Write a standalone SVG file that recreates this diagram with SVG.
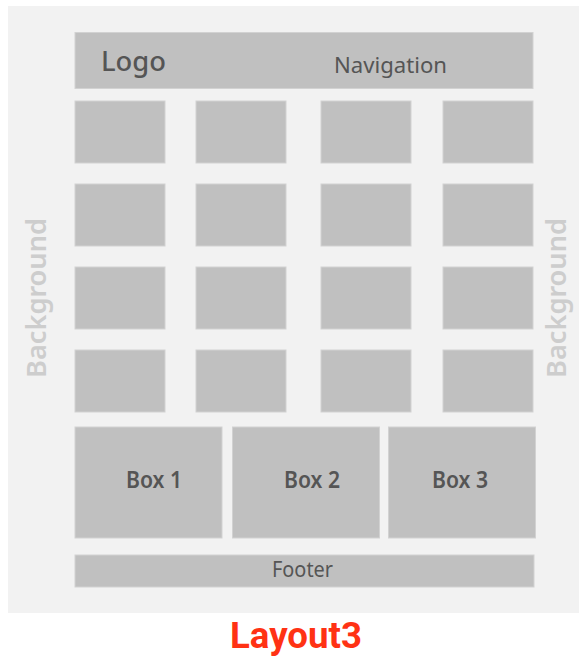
<svg xmlns="http://www.w3.org/2000/svg" width="579" height="665" viewBox="0 0 579 665">
<style>
.blk{fill:#c0c0c0;stroke:#d2d2d2;stroke-width:1}
.lbl{font-family:"Noto Sans","Open Sans",sans-serif;fill:#555555;font-weight:600}
.reg{font-weight:400}
.med{font-weight:500}
.bg{font-family:"Noto Sans","Open Sans",sans-serif;fill:#cdcdcd;font-weight:600;font-size:27px}
</style>
<rect x="0" y="0" width="579" height="665" fill="#ffffff"/>
<g id="background">
<rect x="8" y="6" width="571" height="607" fill="#f2f2f2"/>
<text class="bg" transform="translate(46,298) rotate(-90)" text-anchor="middle" textLength="160" lengthAdjust="spacingAndGlyphs">Background</text>
<text class="bg" transform="translate(566,298) rotate(-90)" text-anchor="middle" textLength="160" lengthAdjust="spacingAndGlyphs">Background</text>
</g>
<g id="header">
<rect class="blk" x="75" y="32.5" width="458" height="56"/>
<text class="lbl med" x="101" y="71" font-size="27" textLength="65" lengthAdjust="spacingAndGlyphs">Logo</text>
<text class="lbl reg" x="334" y="73" font-size="21" textLength="113" lengthAdjust="spacingAndGlyphs">Navigation</text>
</g>
<g id="grid">
<rect class="blk" x="75" y="101" width="90" height="62"/>
<rect class="blk" x="196" y="101" width="90" height="62"/>
<rect class="blk" x="321" y="101" width="90" height="62"/>
<rect class="blk" x="443" y="101" width="90" height="62"/>
<rect class="blk" x="75" y="184" width="90" height="62"/>
<rect class="blk" x="196" y="184" width="90" height="62"/>
<rect class="blk" x="321" y="184" width="90" height="62"/>
<rect class="blk" x="443" y="184" width="90" height="62"/>
<rect class="blk" x="75" y="267" width="90" height="62"/>
<rect class="blk" x="196" y="267" width="90" height="62"/>
<rect class="blk" x="321" y="267" width="90" height="62"/>
<rect class="blk" x="443" y="267" width="90" height="62"/>
<rect class="blk" x="75" y="350" width="90" height="62"/>
<rect class="blk" x="196" y="350" width="90" height="62"/>
<rect class="blk" x="321" y="350" width="90" height="62"/>
<rect class="blk" x="443" y="350" width="90" height="62"/>
</g>
<g id="box1">
<rect class="blk" x="75" y="427" width="147" height="111"/>
<text class="lbl" x="126" y="488" font-size="23" textLength="56" lengthAdjust="spacingAndGlyphs">Box 1</text>
</g>
<g id="box2">
<rect class="blk" x="232.5" y="427" width="147" height="111"/>
<text class="lbl" x="284" y="488" font-size="23" textLength="56" lengthAdjust="spacingAndGlyphs">Box 2</text>
</g>
<g id="box3">
<rect class="blk" x="388.5" y="427" width="147" height="111"/>
<text class="lbl" x="432" y="488" font-size="23" textLength="56" lengthAdjust="spacingAndGlyphs">Box 3</text>
</g>
<g id="footer">
<rect class="blk" x="75" y="555" width="459" height="32"/>
<text class="lbl reg" x="272" y="577" font-size="21" textLength="61" lengthAdjust="spacingAndGlyphs">Footer</text>
</g>
<g id="connectors"></g>
<text x="296" y="648" text-anchor="middle" font-family="Roboto,'Liberation Sans',sans-serif" font-weight="bold" font-size="37" fill="#ff3214" textLength="132" lengthAdjust="spacingAndGlyphs">Layout3</text>
</svg>
